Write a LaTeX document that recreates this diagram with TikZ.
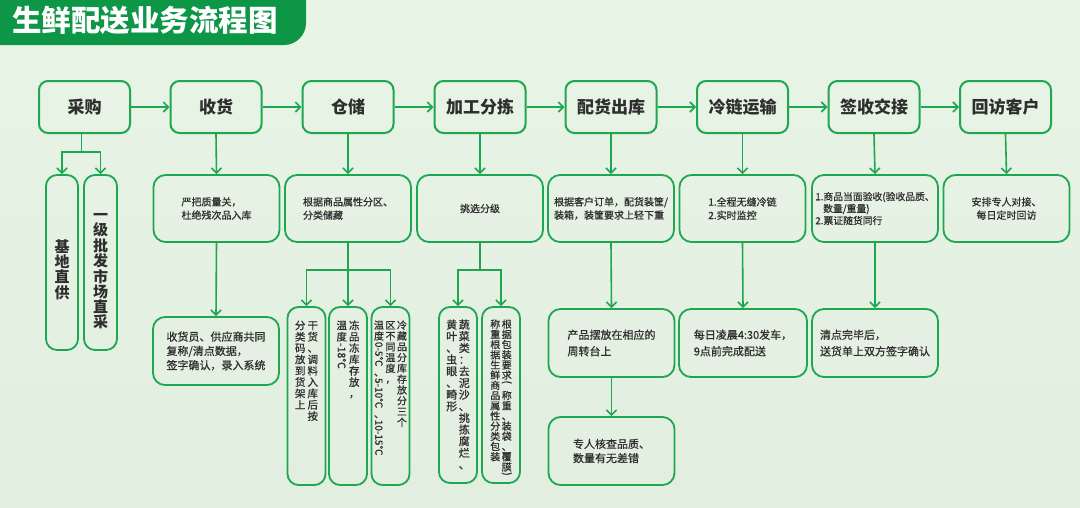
\documentclass[tikz,border=0pt]{standalone}
\usepackage{fontspec}
\usepackage{graphicx}
\usetikzlibrary{arrows.meta,calc}
\newfontfamily\cjk{Noto Sans CJK SC}
\newfontfamily\cjkm[FakeBold=0.7]{Noto Sans CJK SC}
\definecolor{bgtop}{HTML}{E8F4E6}
\definecolor{bgbot}{HTML}{E2EEDF}
\definecolor{tabg}{HTML}{0E9647}
\definecolor{gline}{HTML}{1FA650}
\definecolor{txt}{HTML}{2E2E2E}
\makeatletter
\newcommand\vcol[2][0.08em]{\vtop{\offinterlineskip\@tfor\vc@t:=#2\do{\hbox to 1.1em{\hss\vrule height .86em depth .14em width 0pt\vc@t\hss}\vskip #1}}}
\makeatother
\newcommand\rot[1]{\raisebox{.86em}{\rotatebox{-90}{#1}}}
\begin{document}
\begin{tikzpicture}[x=1pt,y=-1pt,
  mainbox/.style={draw=gline, line width=2pt, rounded corners=9pt, minimum width=91pt, minimum height=52pt, inner sep=0pt, text=txt, font=\cjk\bfseries\fontsize{17}{20}\selectfont},
  detail/.style={draw=gline, line width=1.8pt, rounded corners=12pt, minimum width=126pt, minimum height=67pt, inner sep=0pt, text=txt, align=left, font=\cjkm\fontsize{10}{13.3}\selectfont},
  rowbox/.style={detail, minimum height=68pt, font=\cjkm\fontsize{11}{15}\selectfont},
  tallbox/.style={draw=gline, line width=1.8pt, rounded corners=11pt, minimum width=38pt, minimum height=178pt, inner sep=0pt},
  vtxt/.style={inner sep=0pt, text=txt, anchor=north, font=\cjkm\fontsize{10.5}{12}\selectfont},
  arr/.style={draw=gline, line width=1.6pt, -{Straight Barb[length=5pt,width=10pt,line width=1.6pt]}},
]
\useasboundingbox (0,0) rectangle (1080,507);
\shade[top color=bgtop, bottom color=bgbot] (0,0) rectangle (1080,507);
\begin{scope}
  \clip (0,0) rectangle (1080,507);
  \fill[tabg, rounded corners=22pt] (-40,-40) rectangle (306,45);
\end{scope}
\node[font=\cjk\bfseries\fontsize{29.5}{30}\selectfont, text=white, anchor=west, inner sep=0pt] (title) at (12,20) {生鲜配送业务流程图};

% main row
\node[mainbox] (m1) at (84.5,107) {采购};
\node[mainbox] (m2) at (216,107) {收货};
\node[mainbox] (m3) at (348,107) {仓储};
\node[mainbox] (m4) at (480,107) {加工分拣};
\node[mainbox] (m5) at (611,107) {配货出库};
\node[mainbox] (m6) at (742.5,107) {冷链运输};
\node[mainbox] (m7) at (874,107) {签收交接};
\node[mainbox] (m8) at (1005.5,107) {回访客户};
\foreach \a/\b in {m1/m2,m2/m3,m3/m4,m4/m5,m5/m6,m6/m7,m7/m8}
  \draw[arr] (\a.east) -- (\b.west);

% purchase branches
\node[tallbox, minimum width=32pt, minimum height=175pt] (s1) at (62,262.5) {};
\node[tallbox, minimum width=33pt, minimum height=175pt] (s2) at (100.5,262.5) {};
\node[vtxt, anchor=center, font=\cjk\bfseries\fontsize{15}{16}\selectfont] (s1t) at (62,270) {\vcol[0.02em]{基地直供}};
\node[vtxt, anchor=center, font=\cjk\bfseries\fontsize{15}{16}\selectfont] (s2t) at (100.5,269) {\vcol[0.02em]{一级批发市场直采}};
\coordinate (cgj) at (81.3,152);
\draw[arr] (cgj |- m1.south) -- (cgj) -| (s1.north);
\draw[arr] (cgj) -| (s2.north);

% detail row
\node[detail] (d2) at (216.5,208.5) {严把质量关，\\杜绝残次品入库};
\node[detail] (d3) at (348,208.5) {根据商品属性分区、\\分类储藏};
\node[detail] (d4) at (480,208.5) {挑选分级};
\node[detail] (d5) at (611,208.5) {根据客户订单，配货装筐/\\装箱，装筐要求上轻下重};
\node[detail] (d6) at (742.5,208.5) {1.全程无缝冷链\\2.实时监控};
\node[detail, font=\cjkm\fontsize{9.8}{12}\selectfont] (d7) at (875,208.5) {1.商品当面验收(验收品质、\\\hspace{0.8em}数量/重量)\\2.票证随货同行};
\node[detail, align=center] (d8) at (1006.5,208.5) {安排专人对接、\\每日定时回访};
\foreach \i in {2,...,8}
  \draw[arr] (m\i.south) -- (d\i.north);

% third row
\node[rowbox, font=\cjkm\fontsize{11}{14.3}\selectfont] (r2) at (216,351) {收货员、供应商共同\\复称/清点数据，\\签字确认，录入系统};
\node[rowbox, font=\cjkm\fontsize{11}{16.5}\selectfont] (r5) at (611.5,343) {产品摆放在相应的\\周转台上};
\node[rowbox, minimum width=128pt, font=\cjkm\fontsize{11}{16.5}\selectfont] (r6) at (743,343) {每日凌晨4:30发车，\\9点前完成配送};
\node[rowbox, font=\cjkm\fontsize{11}{16.5}\selectfont] (r7) at (875,343) {清点完毕后，\\送货单上双方签字确认};
\node[rowbox, font=\cjkm\fontsize{11}{14.3}\selectfont] (r9) at (611.5,451) {专人核查品质、\\数量有无差错};
\draw[arr] (d2.south) -- (r2.north);
\draw[arr] (d5.south) -- (r5.north);
\draw[arr] (r5.south) -- (r9.north);
\draw[arr] (d6.south) -- (r6.north);
\draw[arr] (d7.south) -- (r7.north);

% storage tall boxes
\node[tallbox] (c1) at (306.5,396) {};
\node[tallbox] (c2) at (348,396) {};
\node[tallbox] (c3) at (390.5,396) {};
\node[vtxt] (c1t) at ([yshift=-14pt]c1.north) {\vcol{分类码放到货架上}\hspace{1pt}\vcol{干货、调料入库后按}};
\node[vtxt] (c2t) at ([yshift=-14pt]c2.north) {\vcol{温度{\rot{-18℃}}}\hspace{1pt}\vcol{冻品冻库存放，}};
\node[vtxt, font=\cjkm\fontsize{10}{12}\selectfont] (c3t) at ([yshift=-14pt]c3.north) {\vcol{温度{\rot{0-5℃}}、{\rot{5-10℃}}、{\rot{10-15℃}}}\hspace{0.5pt}\vcol{区不同温度，}\hspace{0.5pt}\vcol{冷藏品分库存放分三个}};
\draw[arr] (d3.south) -- ++(0,27) -| (c1.north);
\draw[arr] (d3.south) -- (c2.north);
\draw[arr] (d3.south) -- ++(0,27) -| (c3.north);

% processing tall boxes
\node[tallbox, minimum height=176pt] (p1) at (458,395) {};
\node[tallbox, minimum height=176pt] (p2) at (501,395) {};
\node[vtxt, font=\cjkm\fontsize{11}{12}\selectfont] (p1t) at ([yshift=-13pt]p1.north) {\vcol[0.06em]{黄叶、虫眼、畸形}\hspace{0.5pt}\vcol[0.06em]{蔬菜类：去泥沙、挑拣腐烂、}};
\node[vtxt, font=\cjkm\fontsize{10}{12}\selectfont] (p2t) at ([yshift=-13pt]p2.north) {\vcol[0.02em]{称重根据生鲜商品属性分类包装}\hspace{0.5pt}\vcol[0.02em]{根据包装要求{\rot{(}}称重、装袋、覆膜{\rot{)}}}};
\draw[arr] (d4.south) -- ++(0,27) -| (p1.north);
\draw[arr] (d4.south) -- ++(0,27) -| (p2.north);
\end{tikzpicture}
\end{document}
